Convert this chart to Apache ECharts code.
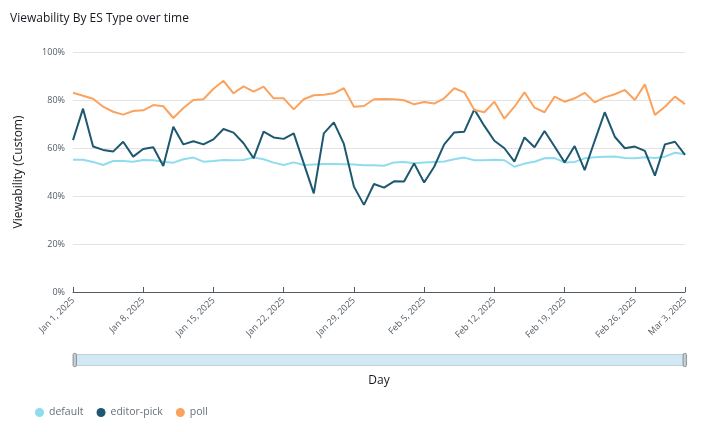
<!DOCTYPE html>
<html><head><meta charset="utf-8">
<script src="https://cdn.jsdelivr.net/npm/echarts@6/dist/echarts.min.js"></script>
<style>html,body{margin:0;padding:0;background:#fff}#c{width:703px;height:432px}</style>
</head><body><div id="c"></div>
<script>
var months = ['Jan','Feb','Mar'];
var monthDays = [31, 28, 3];
var categories = [];
for (var m = 0; m < months.length; m++) {
  for (var d = 1; d <= monthDays[m]; d++) categories.push(months[m] + ' ' + d + ', 2025');
}
var seriesNames = ['default', 'editor-pick', 'poll'];
var defaultVals = [55.1,55.1,54.2,52.9,54.6,54.6,54.3,55.0,54.9,54.3,53.9,55.3,56.0,54.3,54.6,55.0,
  54.9,55.0,56.1,55.3,53.9,52.9,54.0,52.9,53.1,53.3,53.3,53.2,53.1,52.8,52.8,
  52.6,54.0,54.2,53.6,54.0,54.2,54.4,55.3,56.0,54.9,54.9,55.1,54.9,52.2,53.5,
  54.3,55.7,55.8,54.0,54.2,55.7,56.1,56.4,56.5,55.8,55.7,56.1,55.8,56.4,58.0,57.4];
var editorVals = [63.3,76.4,60.6,59.2,58.5,62.6,56.4,59.6,60.3,52.5,68.9,61.5,62.8,61.5,63.6,67.9,
  66.4,62.0,55.7,66.8,64.4,63.8,66.1,53.6,41.1,66.1,70.7,61.7,43.9,36.3,45.0,
  43.5,46.1,46.0,53.6,45.6,52.2,61.5,66.5,66.8,76.1,69.2,63.0,59.9,54.3,64.4,
  60.3,67.1,60.6,54.0,60.8,50.8,63.0,74.9,64.7,59.9,60.6,58.8,48.5,61.5,62.6,57.1];
var pollVals = [83.0,81.8,80.5,77.2,75.1,73.9,75.4,75.7,77.9,77.4,72.5,76.7,80.0,80.3,84.7,88.0,
  82.8,85.7,83.5,85.6,80.7,80.7,76.1,80.3,82.0,82.2,82.8,84.9,77.2,77.5,80.3,
  80.4,80.3,79.9,78.2,79.2,78.5,80.7,84.9,83.2,75.8,74.9,79.3,72.2,77.2,83.2,
  76.8,74.9,81.4,79.3,80.7,83.0,79.0,81.1,82.4,84.2,80.0,86.5,73.8,77.2,81.4,78.3];
var yTicks = [0, 20, 40, 60, 80, 100];
var colors = ['#8fdcee', '#1d5870', '#fba35e'];

var chart = echarts.init(document.getElementById('c'), null, {renderer: 'canvas'});
function mk(name, data, i) {
  return {name: name, type: 'line', data: data, showSymbol: false, symbol: 'circle',
    lineStyle: {width: 2, color: colors[i]}, itemStyle: {color: colors[i]}};
}
function showIdx(i) { return i % 7 === 0 || i === categories.length - 1; }
chart.setOption({
  animation: false,
  title: {text: 'Viewability By ES Type over time', left: 5, top: 8,
    textStyle: {fontSize: 12, fontWeight: 'normal', color: '#16191f', fontFamily: 'Open Sans'}},
  grid: {left: 73, right: 18, top: 52, bottom: 140},
  legend: {data: seriesNames, left: 30, bottom: 9, icon: 'circle', itemWidth: 9, itemHeight: 9, itemGap: 13,
    textStyle: {fontSize: 10.5, color: '#687078', fontFamily: 'Open Sans'}},
  xAxis: {type: 'category', data: categories, boundaryGap: false,
    name: 'Day', nameLocation: 'middle', nameGap: 83,
    nameTextStyle: {fontSize: 12, color: '#16191f', fontFamily: 'Open Sans'},
    axisLine: {lineStyle: {color: '#545b64', width: 1}},
    axisTick: {interval: showIdx, inside: true, length: 5, lineStyle: {color: '#545b64'}},
    axisLabel: {interval: showIdx, rotate: 45, fontSize: 9, color: '#545b64', fontFamily: 'Open Sans', margin: 7},
    splitLine: {show: false}},
  yAxis: {type: 'value', min: yTicks[0], max: yTicks[yTicks.length - 1], interval: 20,
    name: 'Viewability (Custom)', nameLocation: 'middle', nameGap: 48,
    nameTextStyle: {fontSize: 12, color: '#16191f', fontFamily: 'Open Sans'},
    axisLine: {show: false}, axisTick: {show: false},
    axisLabel: {formatter: '{value}%', fontSize: 9, color: '#545b64', fontFamily: 'Open Sans', margin: 8},
    splitLine: {lineStyle: {color: '#e3e3e3', width: 1}}},
  dataZoom: [{type: 'slider', xAxisIndex: 0, start: 0, end: 100, left: 73, right: 18, bottom: 66, height: 12,
    showDetail: false, showDataShadow: false, brushSelect: false,
    borderColor: '#bcd3df', backgroundColor: '#fff',
    fillerColor: 'rgba(195,225,240,0.75)',
    handleIcon: 'path://M1.5,0 L2.5,0 Q4,0 4,1.5 L4,14.5 Q4,16 2.5,16 L1.5,16 Q0,16 0,14.5 L0,1.5 Q0,0 1.5,0 Z',
    handleSize: '110%', handleStyle: {color: '#c9d0d4', borderColor: '#879196'},
    moveHandleSize: 0, textStyle: {color: 'transparent'}}],
  series: [mk(seriesNames[0], defaultVals, 0), mk(seriesNames[1], editorVals, 1), mk(seriesNames[2], pollVals, 2)]
});
</script></body></html>
